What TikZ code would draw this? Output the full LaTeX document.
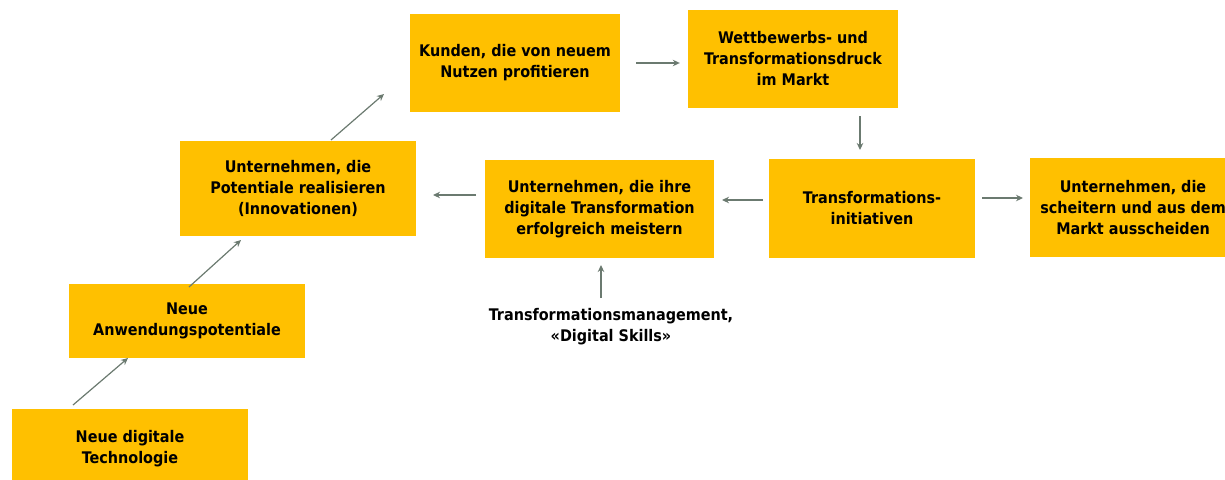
\documentclass[tikz,border=0pt]{standalone}
\usepackage{fontspec}
\setmainfont{DejaVu Sans Condensed}
\usetikzlibrary{arrows.meta}
\definecolor{boxc}{HTML}{FFC000}
\definecolor{arrc}{HTML}{6B7A70}
\begin{document}
\begin{tikzpicture}[x=1pt,y=-1pt,
  box/.style={fill=boxc,draw=none,inner sep=0pt,align=center,font=\bfseries\fontsize{16}{21}\selectfont},
  arr/.style={draw=arrc,line width=1.2pt,-{Stealth[length=7pt,width=6.5pt]}},
  lbl/.style={align=center,font=\bfseries\fontsize{16}{21}\selectfont}]
\useasboundingbox (0,0) rectangle (1225,479);
\begin{scope}
\clip (0,0) rectangle (1225,479);
\node[box,minimum width=236pt,minimum height=80pt] (n1) at (130,449) {Neue digitale\\Technologie};
\node[box,minimum width=236pt,minimum height=74pt] (n2) at (187,321) {Neue\\Anwendungspotentiale};
\node[box,minimum width=236pt,minimum height=95pt] (n3) at (298,188.5) {Unternehmen, die\\Potentiale realisieren\\(Innovationen)};
\node[box,minimum width=210pt,minimum height=98pt] (n4) at (515,63) {Kunden, die von neuem\\Nutzen profitieren};
\node[box,minimum width=210pt,minimum height=98pt] (n5) at (793,59) {Wettbewerbs- und\\Transformationsdruck\\im Markt};
\node[box,minimum width=206pt,minimum height=99pt] (n6) at (872,208.5) {Transformations-\\initiativen};
\node[box,minimum width=229pt,minimum height=98pt] (n7) at (599.5,209) {Unternehmen, die ihre\\digitale Transformation\\erfolgreich meistern};
\node[box,minimum width=206pt,minimum height=99pt] (n8) at (1133,207.5) {Unternehmen, die\\scheitern und aus dem\\Markt ausscheiden};
\end{scope}
\node[lbl] (l) at (611,327) {Transformationsmanagement,\\«Digital Skills»};
\coordinate (a1s) at (73,405); \coordinate (a1e) at (128,358);
\coordinate (a2s) at (189,287); \coordinate (a2e) at (241,240);
\coordinate (a3s) at (331,140); \coordinate (a3e) at (384,94);
\draw[arr] (a1s) -- (a1e);
\draw[arr] (a2s) -- (a2e);
\draw[arr] (a3s) -- (a3e);
\draw[arr] ([xshift=16pt]n4.east) -- ([xshift=-8pt]n5.west |- n4.east);
\draw[arr] (860,116) -- (860,150);
\draw[arr] (763,200) -- (722,200);
\draw[arr] (476,195) -- (433,195);
\draw[arr] (982,198) -- (1023,198);
\draw[arr] (l.north -| 601,0) ++(0,-7) -- (601,265);
\end{tikzpicture}
\end{document}
